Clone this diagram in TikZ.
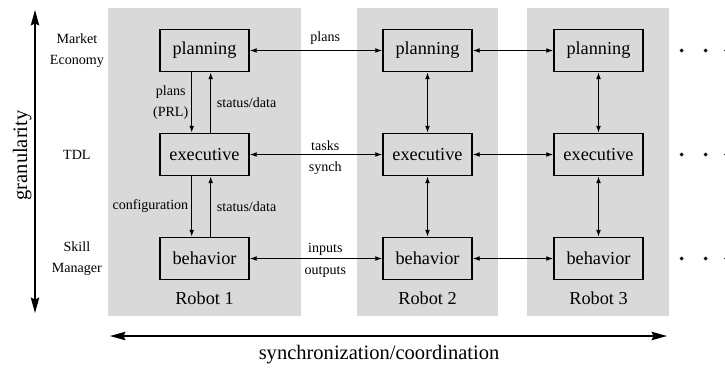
\documentclass[tikz,border=0pt]{standalone}
\usepackage{fontspec}
\setmainfont{Liberation Serif}
\usetikzlibrary{arrows.meta}

\begin{document}
\begin{tikzpicture}[
	box/.style={rectangle, draw, line width=1pt, minimum width=2.225cm, minimum height=1.05cm, font=\fontsize{13}{15}\selectfont},
	panel/.style={rectangle, fill=black!15, minimum height=7.7cm},
	lbl/.style={font=\fontsize{10}{15}\selectfont, align=center, inner sep=2pt},
	levellbl/.style={font=\fontsize{10}{14.5}\selectfont, align=center},
	robotlbl/.style={font=\fontsize{13}{15}\selectfont},
	axislbl/.style={font=\fontsize{14.6}{17}\selectfont, inner sep=2pt},
	link/.style={line width=0.9pt, -{Latex[length=5pt,width=3.5pt]}},
	both/.style={line width=0.9pt, {Latex[length=5pt,width=3.5pt]}-{Latex[length=5pt,width=3.5pt]}},
	axis/.style={line width=1pt, {Stealth[length=11pt,width=6pt,inset=1.5pt]}-{Stealth[length=11pt,width=6pt,inset=1.5pt]}},
	node distance=2.6cm
	]
	
	\useasboundingbox (0,0) rectangle (18.125,-9.175);
	
	%Panels
	\node[panel, minimum width=4.825cm]	(robot1)	at (5.1125,-4.05)	{};
	\node[panel, minimum width=3.525cm]	(robot2)	at (10.6875,-4.05)	{};
	\node[panel, minimum width=3.55cm]	(robot3)	at (14.95,-4.05)	{};
	
	%Nodes
	\node[box]							(plan1)	at (5.1125,-1.2625)	{planning};
	\node[box]							(exec1)	[below of=plan1]	{executive};
	\node[box]							(beh1)	[below of=exec1]	{behavior};
	\node[box, node distance=5.575cm]	(plan2)	[right of=plan1]	{planning};
	\node[box]							(exec2)	[below of=plan2]	{executive};
	\node[box]							(beh2)	[below of=exec2]	{behavior};
	\node[box, node distance=4.275cm]	(plan3)	[right of=plan2]	{planning};
	\node[box]							(exec3)	[below of=plan3]	{executive};
	\node[box]							(beh3)	[below of=exec3]	{behavior};
	
	\node[robotlbl, node distance=1cm]	(rob1)	[below of=beh1]	{Robot 1};
	\node[robotlbl, node distance=1cm]	(rob2)	[below of=beh2]	{Robot 2};
	\node[robotlbl, node distance=1cm]	(rob3)	[below of=beh3]	{Robot 3};
	
	\node[levellbl, node distance=3.19cm]	(market)	[left of=plan1]	{Market\\Economy};
	\node[levellbl, node distance=3.19cm]	(tdl)		[left of=exec1]	{TDL};
	\node[levellbl, node distance=3.19cm]	(skill)		[left of=beh1]	{Skill\\Manager};
	
	\coordinate (gtop) at (0.875,-0.25);
	\coordinate (gbot) at (0.875,-7.825);
	\coordinate (sleft) at (2.75,-8.4);
	\coordinate (sright) at (16.675,-8.4);
	
	%Lines
	\draw[link]([xshift=-0.32cm]plan1.south) -- node[lbl, left] (prl) {plans\\(PRL)} ([xshift=-0.32cm]exec1.north);
	\draw[link]([xshift=0.155cm]exec1.north) -- node[lbl, right, xshift=2pt] (stat1) {status/data} ([xshift=0.155cm]plan1.south);
	\draw[link]([xshift=-0.32cm]exec1.south) -- node[lbl, left] (conf) {configuration} ([xshift=-0.32cm]beh1.north);
	\draw[link]([xshift=0.155cm]beh1.north) -- node[lbl, right, xshift=2pt] (stat2) {status/data} ([xshift=0.155cm]exec1.south);
	
	\draw[both](plan1.east) -- node[lbl, above, pos=0.57, yshift=2pt] (plans) {plans} (plan2.west);
	\draw[both](exec1.east) -- node[lbl, above, pos=0.57] (tasks) {tasks} node[lbl, below, pos=0.57, yshift=-3pt] (synch) {synch} (exec2.west);
	\draw[both](beh1.east) -- node[lbl, above, pos=0.57] (inputs) {inputs} node[lbl, below, pos=0.57, yshift=-3pt] (outputs) {outputs} (beh2.west);
	\draw[both](plan2.east) -- (plan3.west);
	\draw[both](exec2.east) -- (exec3.west);
	\draw[both](beh2.east) -- (beh3.west);
	
	\foreach \col in {2,3}{
		\draw[both](plan\col.south) -- (exec\col.north);
		\draw[both](exec\col.south) -- (beh\col.north);
	}
	
	%Dots
	\foreach \row in {plan3, exec3, beh3}
		\foreach \dx in {0.95, 1.55, 2.06}
			\fill ([xshift=\dx cm]\row.east) circle (1.4pt);
	
	%Axes
	\draw[axis](gtop) -- node[axislbl, rotate=90, above, pos=0.48] (gran) {granularity} (gbot);
	\draw[axis](sleft) -- node[axislbl, below, pos=0.483, yshift=-4pt] (sync) {synchronization/coordination} (sright);
	
\end{tikzpicture}
\end{document}
